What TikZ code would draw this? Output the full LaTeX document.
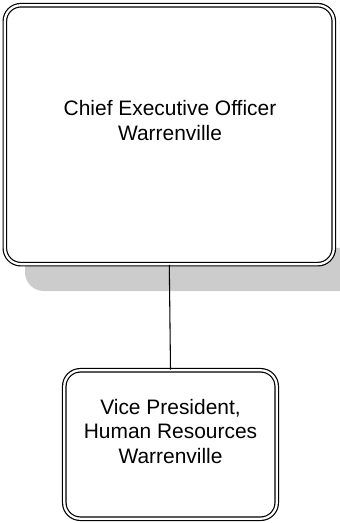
\documentclass[tikz,border=0pt]{standalone}
\usepackage{fontspec}
\setmainfont{Liberation Sans}
\usetikzlibrary{positioning}

\begin{document}
\begin{tikzpicture}[
        x=0.75pt, y=-0.75pt,
        post/.style={
            rectangle,
            rounded corners=12pt,
            draw=black,
            line width=0.9pt,
            double=white,
            double distance=1.7pt,
            fill=white
        },
        shade/.style={
            fill=black!20,
            rounded corners=14pt
        },
        title/.style={
            align=center,
            font=\fontsize{15.7}{18.6}\selectfont
        },
        link/.style={
            line width=0.8pt,
            black
        }
    ]
    \useasboundingbox (0,0) rectangle (339,523);

    % shadow behind the top post
    \fill[shade] (25,248) rectangle (370,291);

    \node[post, minimum width=246.7pt, minimum height=194.2pt] (ceo) at (169.3,134.7) {};
    \node[post, minimum width=159.3pt, minimum height=111.3pt] (vp) at (170.5,444.5) {};

    \node[title] (ceotext) at (170,120.5) {Chief Executive Officer\\Warrenville};
    \node[title] (vptext) at (170.5,431.5) {Vice President,\\Human Resources\\Warrenville};

    \draw[link] (ceo.south) -- (vp.north);
\end{tikzpicture}
\end{document}
